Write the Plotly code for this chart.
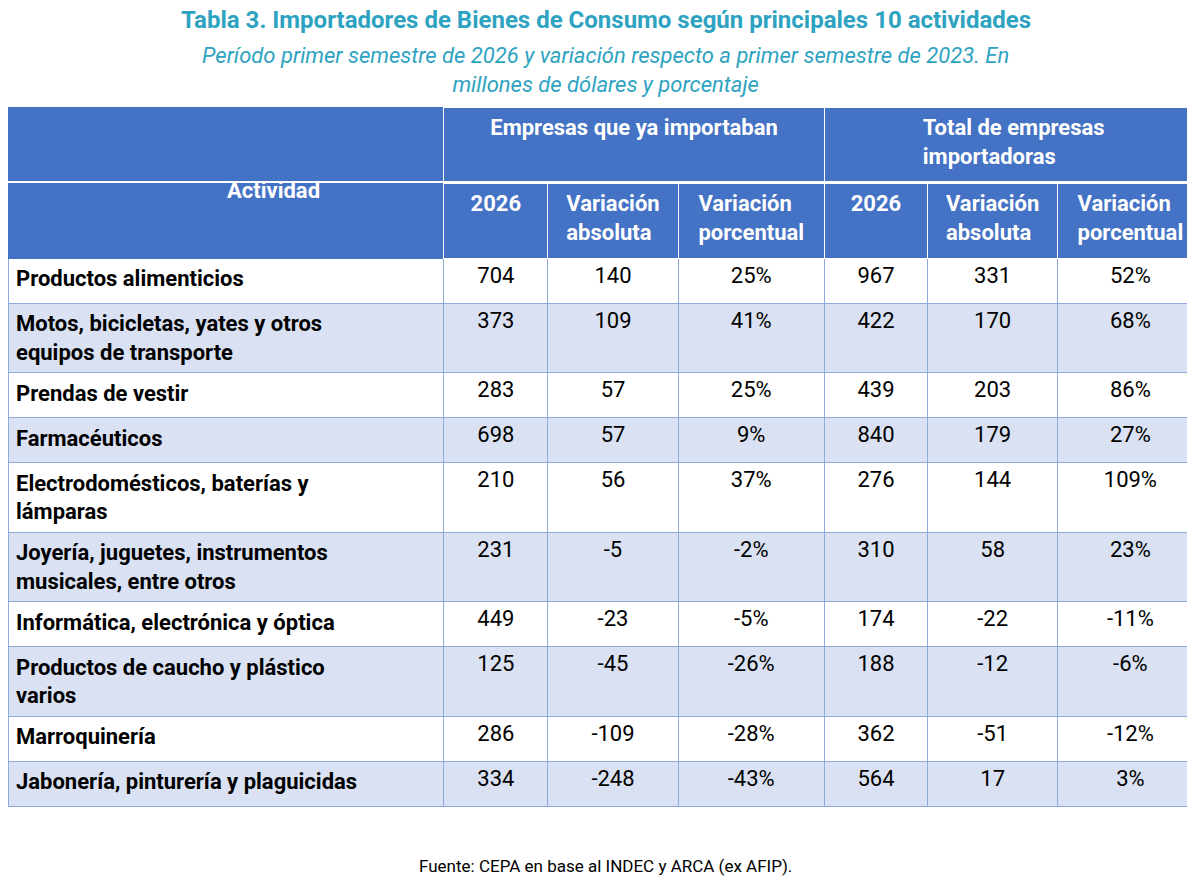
import plotly.graph_objects as go

actividades = [
    "Productos alimenticios",
    "Motos, bicicletas, yates y otros<br>equipos de transporte",
    "Prendas de vestir",
    "Farmacéuticos",
    "Electrodomésticos, baterías y<br>lámparas",
    "Joyería, juguetes, instrumentos<br>musicales, entre otros",
    "Informática, electrónica y óptica",
    "Productos de caucho y plástico<br>varios",
    "Marroquinería",
    "Jabonería, pinturería y plaguicidas",
]
ya_2026 = [704, 373, 283, 698, 210, 231, 449, 125, 286, 334]
ya_abs = [140, 109, 57, 57, 56, -5, -23, -45, -109, -248]
ya_pct = ["25%", "41%", "25%", "9%", "37%", "-2%", "-5%", "-26%", "-28%", "-43%"]
tot_2026 = [967, 422, 439, 840, 276, 310, 174, 188, 362, 564]
tot_abs = [331, 170, 203, 179, 144, 58, -22, -12, -51, 17]
tot_pct = ["52%", "68%", "86%", "27%", "109%", "23%", "-11%", "-6%", "-12%", "3%"]

header_top = ["", "Empresas que ya importaban", "Total de empresas<br>importadoras"]
header_sub = ["", "2026", "Variación<br>absoluta", "Variación<br>porcentual",
              "2026", "Variación<br>absoluta", "Variación<br>porcentual"]

blue = "#4472C4"
light = "#D9E1F2"
grid = "#8EA9DB"
fnt = "Roboto"
H = 890

row_fill = ["white" if i % 2 == 0 else light for i in range(len(actividades))]

# plotly draws tables about 8px inside their domain, so shift domains up
fig = go.Figure()
fig.add_trace(go.Table(
    domain=dict(x=[0, 1], y=[1 - 174 / H, 1 - 99 / H]),
    columnwidth=[435, 380, 378],
    header=dict(values=[f"<b>{v}</b>" for v in header_top], fill_color=blue,
                line_color=[blue, "white", "white"], height=75, align="center",
                font=dict(family=fnt, size=22, color="white")),
))
fig.add_trace(go.Table(
    domain=dict(x=[0, 1], y=[1 - 830 / H, 1 - 175 / H]),
    columnwidth=[435, 104, 130, 146, 103, 130, 145],
    header=dict(values=[f"<b>{v}</b>" for v in header_sub], fill_color=blue,
                line_color=[blue] + ["white"] * 6, height=75, align="center",
                font=dict(family=fnt, size=22, color="white")),
    cells=dict(values=[[f"<b>{a}</b>" for a in actividades], ya_2026, ya_abs, ya_pct,
                       tot_2026, tot_abs, tot_pct],
               fill_color=[row_fill] * 7, line_color=grid, height=45,
               align=["left"] + ["center"] * 6,
               font=dict(family=fnt, size=22, color="black")),
))

def note(text, y, size, color, italic=False):
    fig.add_annotation(text=text, x=0.5, y=1 - y / H, xref="paper", yref="paper",
                       showarrow=False, yanchor="middle",
                       font=dict(family=fnt, size=size, color=color))

fig.add_annotation(text="<b>Actividad</b>", x=217 / 1195, y=1 - 182 / H,
                   xref="paper", yref="paper", showarrow=False, yanchor="middle",
                   font=dict(family=fnt, size=22, color="white"))
note("<b>Tabla 3. Importadores de Bienes de Consumo según principales 10 actividades</b>",
     12, 24, "#2EA3C1")
note("<i>Período primer semestre de 2026 y variación respecto a primer semestre de 2023. En<br>millones de dólares y porcentaje</i>",
     62, 22, "#2EA3C1")
note("Fuente: CEPA en base al INDEC y ARCA (ex AFIP).", 858, 17, "black")

fig.update_layout(width=1195, height=890, margin=dict(l=0, r=0, t=0, b=0),
                  paper_bgcolor="white")
fig.write_html("out.html")
